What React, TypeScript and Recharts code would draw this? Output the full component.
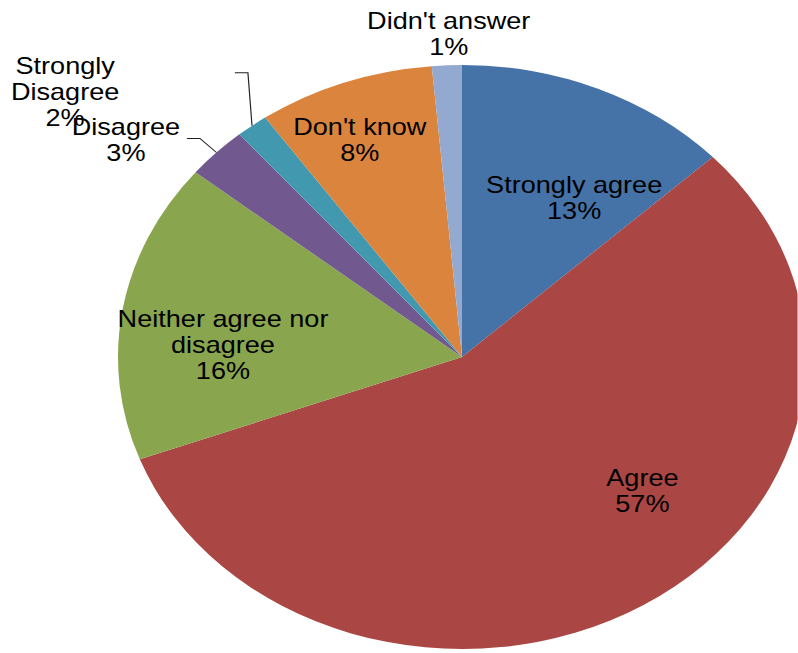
import React from "react";
import { PieChart, Pie, Cell } from "recharts";

const categories = [
  "Strongly agree",
  "Agree",
  "Neither agree nor disagree",
  "Disagree",
  "Strongly Disagree",
  "Don't know",
  "Didn't answer",
];
const values = [13.0, 56.3, 16.6, 2.9, 1.5, 8.3, 1.4];
const percentLabels = ["13%", "57%", "16%", "3%", "2%", "8%", "1%"];
const labelLines = [
  ["Strongly agree"],
  ["Agree"],
  ["Neither agree nor", "disagree"],
  ["Disagree"],
  ["Strongly", "Disagree"],
  ["Don't know"],
  ["Didn't answer"],
];

// styling / layout (kept separate from data)
const colors = ["#4572A7", "#AA4643", "#89A54E", "#71588F", "#4198AF", "#DB843D", "#93A9CF"];
// label anchor: angle clockwise from 12 o'clock (deg) and radius fraction
const labelAngle = [30.9, 131.2, 273.4, 307.3, 308.2, 338.2, 358];
const labelRadius = [0.635, 0.697, 0.696, 1.228, 1.468, 0.8, 1.107];
// leader line elbows (angle, radius fraction, horizontal length fraction)
const leaders: (null | { a: number; r: number; len: number })[] = [
  null,
  null,
  null,
  { a: 314.5, r: 1.068, len: 0.038 },
  { a: 327.4, r: 1.155, len: 0.038 },
  null,
  null,
];

const data = categories.map((name, i) => ({ name, value: values[i] }));

const STRETCH = 344 / 292;
const W = 798;
const H = 653;
const INNER_W = Math.round(W / STRETCH);
const CX = 462 / STRETCH;
const CY = 357;
const R = 292;
const FONT = 23;
const LINE = 26;
const RAD = Math.PI / 180;

const renderLabel = (props: any) => {
  const { cx, cy, midAngle, outerRadius } = props;
  let i: number = props.index;
  if (i === undefined || i === null) {
    const nm = props.name ?? props.payload?.name;
    i = categories.indexOf(nm);
  }
  if (i < 0) return null;
  const a = labelAngle[i] * RAD;
  const rr = labelRadius[i] * outerRadius;
  const x = cx + rr * Math.sin(a);
  const y = cy - rr * Math.cos(a);
  const lines = [...labelLines[i], percentLabels[i]];
  const n = lines.length;
  const leader = leaders[i];
  let path: string | null = null;
  if (leader) {
    const sx = cx + outerRadius * Math.cos(-midAngle * RAD);
    const sy = cy + outerRadius * Math.sin(-midAngle * RAD);
    const ea = leader.a * RAD;
    const ex = cx + leader.r * outerRadius * Math.sin(ea);
    const ey = cy - leader.r * outerRadius * Math.cos(ea);
    const hx = ex - leader.len * outerRadius;
    path = `M${sx},${sy}L${ex},${ey}L${hx},${ey}`;
  }
  return (
    <g key={`lbl-${i}`}>
      {path && <path d={path} stroke="#222" strokeWidth={1} fill="none" />}
      <text
        x={x}
        y={y}
        textAnchor="middle"
        fontFamily="'Liberation Sans', Arial, sans-serif"
        fontSize={FONT}
        fill="#000"
        stroke="none"
      >
        {lines.map((t, k) => (
          <tspan key={k} x={x} y={y + (k - (n - 1) / 2) * LINE + 8}>
            {t}
          </tspan>
        ))}
      </text>
    </g>
  );
};

export default function App() {
  return (
    <div
      style={{
        position: "absolute",
        left: 0,
        top: 0,
        width: W,
        height: H,
        overflow: "hidden",
        background: "#fff",
      }}
    >
      <div
        style={{
          width: INNER_W,
          height: H,
          transform: `scaleX(${STRETCH})`,
          transformOrigin: "0 0",
        }}
      >
        <PieChart width={INNER_W} height={H} margin={{ top: 0, right: 0, bottom: 0, left: 0 }}>
          <Pie
            data={data}
            dataKey="value"
            nameKey="name"
            cx={CX}
            cy={CY}
            outerRadius={R}
            startAngle={90}
            endAngle={-270}
            stroke="none"
            label={renderLabel}
            labelLine={false}
            isAnimationActive={false}
          >
            {data.map((d, i) => (
              <Cell key={d.name} fill={colors[i]} />
            ))}
          </Pie>
        </PieChart>
      </div>
    </div>
  );
}
